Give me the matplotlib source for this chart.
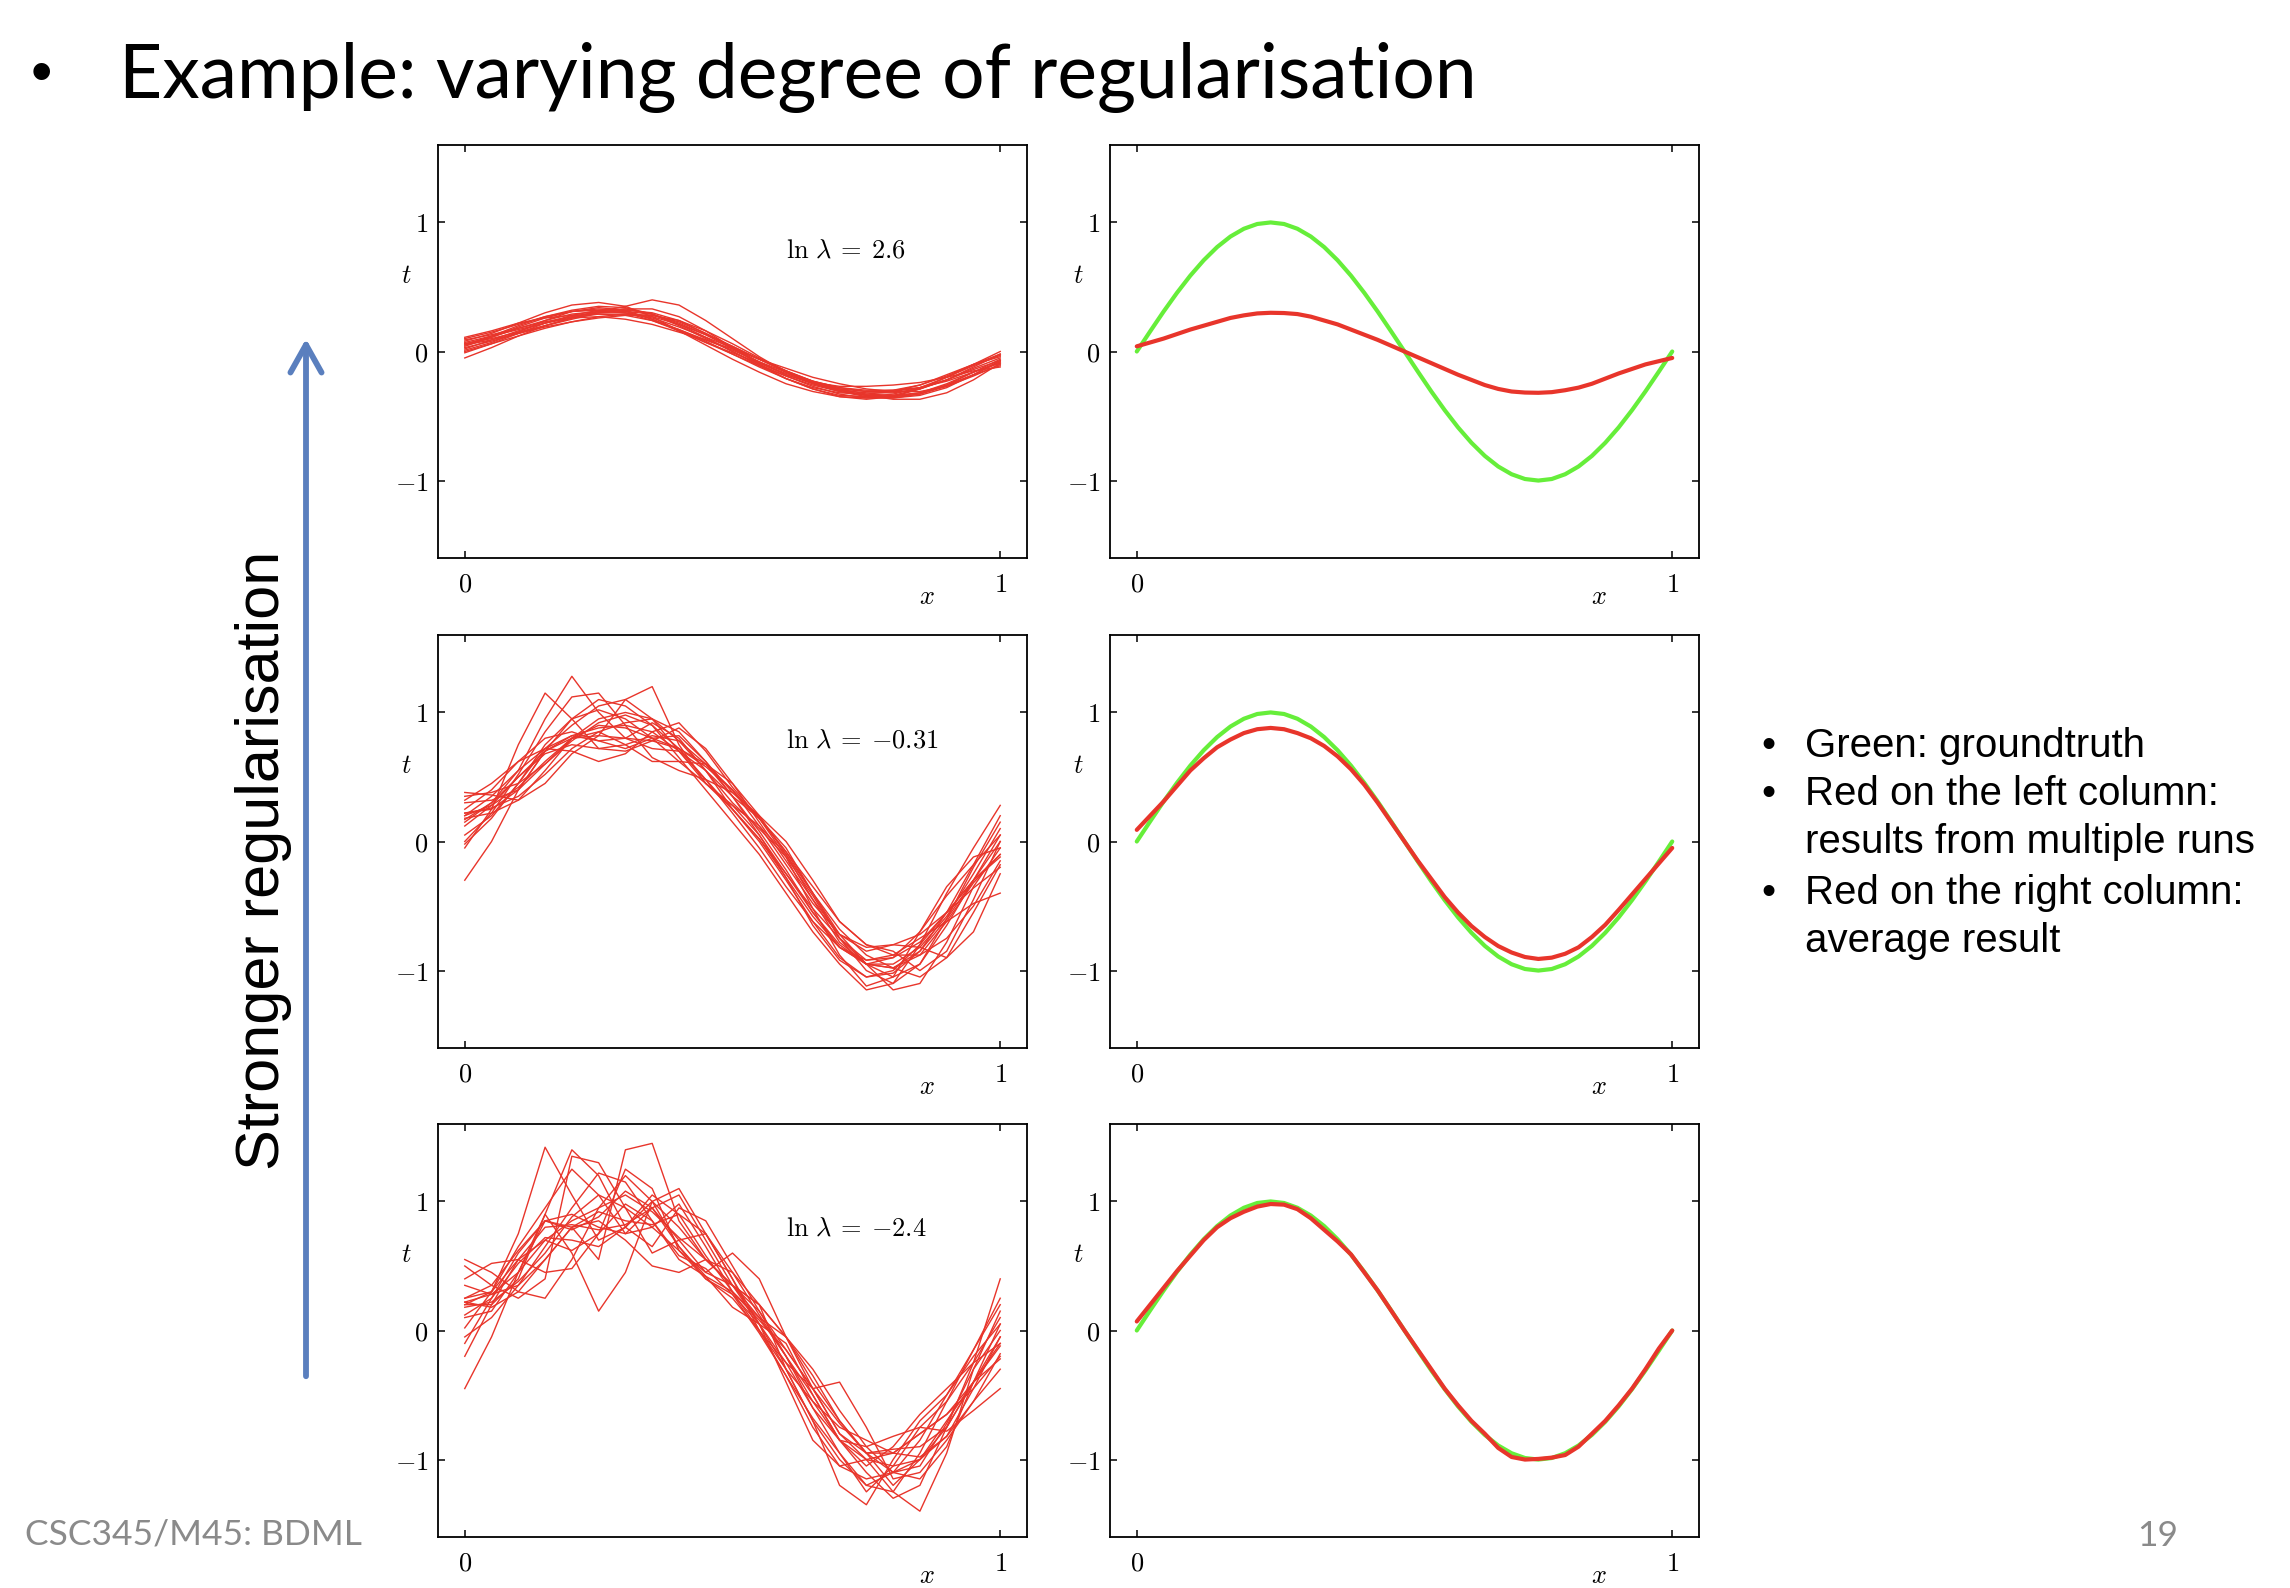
import numpy as np
import matplotlib
matplotlib.use("Agg")
import matplotlib.pyplot as plt
from matplotlib.patches import FancyArrowPatch

plt.rcParams['mathtext.fontset'] = 'cm'
plt.rcParams['font.family'] = ['DejaVu Serif']

W, H = 2290, 1588

# x positions of the individual runs (left column)
xs = [0.00, 0.05, 0.10, 0.15, 0.20, 0.25, 0.30, 0.35, 0.40, 0.45, 0.50,
      0.55, 0.60, 0.65, 0.70, 0.75, 0.80, 0.85, 0.90, 0.95, 1.00]

# finer x positions for the smooth curves (right column)
xs_fine = [0.000, 0.025, 0.050, 0.075, 0.100, 0.125, 0.150, 0.175, 0.200, 0.225,
           0.250, 0.275, 0.300, 0.325, 0.350, 0.375, 0.400, 0.425, 0.450, 0.475,
           0.500, 0.525, 0.550, 0.575, 0.600, 0.625, 0.650, 0.675, 0.700, 0.725,
           0.750, 0.775, 0.800, 0.825, 0.850, 0.875, 0.900, 0.925, 0.950, 0.975,
           1.000]

# ground truth (green)
truth = [0.000, 0.156, 0.309, 0.454, 0.588, 0.707, 0.809, 0.891, 0.951, 0.988,
         1.000, 0.988, 0.951, 0.891, 0.809, 0.707, 0.588, 0.454, 0.309, 0.156,
         0.000, -0.156, -0.309, -0.454, -0.588, -0.707, -0.809, -0.891, -0.951, -0.988,
         -1.000, -0.988, -0.951, -0.891, -0.809, -0.707, -0.588, -0.454, -0.309, -0.156,
         0.000]

# average fits (red, right column)
avg_hi = [0.04, 0.07, 0.10, 0.135, 0.17, 0.20, 0.23, 0.26, 0.28, 0.295,
          0.30, 0.298, 0.29, 0.27, 0.24, 0.21, 0.17, 0.13, 0.09, 0.045,
          0.00, -0.045, -0.09, -0.135, -0.18, -0.22, -0.26, -0.29, -0.31, -0.318,
          -0.32, -0.315, -0.30, -0.28, -0.25, -0.21, -0.17, -0.135, -0.10, -0.075,
          -0.05]
avg_mid = [0.09, 0.20, 0.31, 0.43, 0.55, 0.645, 0.73, 0.79, 0.84, 0.87,
           0.88, 0.87, 0.84, 0.80, 0.74, 0.66, 0.56, 0.44, 0.30, 0.15,
           0.00, -0.15, -0.29, -0.43, -0.55, -0.655, -0.74, -0.81, -0.86, -0.895,
           -0.91, -0.90, -0.87, -0.82, -0.74, -0.645, -0.53, -0.41, -0.29, -0.17,
           -0.05]
avg_lo = [0.07, 0.20, 0.33, 0.46, 0.58, 0.70, 0.80, 0.87, 0.92, 0.96,
          0.98, 0.975, 0.94, 0.87, 0.78, 0.69, 0.59, 0.45, 0.31, 0.155,
          0.00, -0.15, -0.30, -0.45, -0.58, -0.70, -0.80, -0.91, -0.98, -1.00,
          -0.995, -0.985, -0.965, -0.90, -0.80, -0.70, -0.58, -0.45, -0.30, -0.14,
          0.00]

# individual runs, ln lambda = 2.6
runs_hi = [
    [0.05, 0.12, 0.20, 0.27, 0.31, 0.33, 0.31, 0.25, 0.17, 0.08, -0.02, -0.12, -0.21, -0.28, -0.32, -0.33, -0.31, -0.26, -0.18, -0.10, -0.04],
    [0.00, 0.06, 0.12, 0.18, 0.23, 0.27, 0.29, 0.27, 0.21, 0.13, 0.04, -0.06, -0.15, -0.24, -0.30, -0.34, -0.35, -0.32, -0.25, -0.16, -0.08],
    [0.10, 0.15, 0.21, 0.27, 0.32, 0.35, 0.34, 0.29, 0.20, 0.10, 0.00, -0.10, -0.19, -0.27, -0.33, -0.36, -0.36, -0.33, -0.26, -0.16, -0.06],
    [-0.05, 0.03, 0.12, 0.20, 0.26, 0.29, 0.28, 0.24, 0.17, 0.09, 0.01, -0.08, -0.16, -0.23, -0.28, -0.31, -0.31, -0.28, -0.22, -0.14, -0.07],
    [0.08, 0.14, 0.22, 0.30, 0.36, 0.38, 0.35, 0.27, 0.16, 0.05, -0.06, -0.16, -0.25, -0.31, -0.35, -0.36, -0.34, -0.29, -0.22, -0.13, -0.05],
    [0.03, 0.08, 0.14, 0.19, 0.23, 0.26, 0.28, 0.28, 0.24, 0.16, 0.06, -0.05, -0.15, -0.23, -0.28, -0.30, -0.30, -0.28, -0.23, -0.16, -0.09],
    [0.06, 0.10, 0.15, 0.20, 0.25, 0.30, 0.33, 0.33, 0.27, 0.16, 0.03, -0.10, -0.21, -0.29, -0.34, -0.35, -0.33, -0.28, -0.20, -0.11, -0.03],
    [0.02, 0.09, 0.16, 0.22, 0.26, 0.27, 0.25, 0.21, 0.15, 0.09, 0.02, -0.06, -0.13, -0.20, -0.25, -0.29, -0.31, -0.31, -0.27, -0.19, -0.10],
    [0.11, 0.16, 0.22, 0.26, 0.28, 0.29, 0.29, 0.28, 0.23, 0.14, 0.03, -0.08, -0.18, -0.25, -0.30, -0.32, -0.32, -0.29, -0.22, -0.12, -0.02],
    [0.04, 0.11, 0.19, 0.26, 0.31, 0.32, 0.30, 0.24, 0.16, 0.07, -0.02, -0.11, -0.19, -0.26, -0.31, -0.34, -0.35, -0.33, -0.27, -0.18, -0.11],
    [0.07, 0.12, 0.17, 0.22, 0.27, 0.31, 0.32, 0.30, 0.24, 0.14, 0.04, -0.06, -0.16, -0.24, -0.29, -0.31, -0.30, -0.26, -0.19, -0.10, 0.00],
    [-0.01, 0.06, 0.14, 0.22, 0.28, 0.32, 0.33, 0.29, 0.21, 0.11, 0.00, -0.11, -0.21, -0.29, -0.35, -0.37, -0.35, -0.29, -0.20, -0.10, -0.02],
    [0.09, 0.13, 0.18, 0.23, 0.27, 0.30, 0.31, 0.29, 0.22, 0.13, 0.02, -0.09, -0.18, -0.24, -0.27, -0.27, -0.26, -0.24, -0.20, -0.15, -0.12],
    [0.05, 0.09, 0.14, 0.20, 0.26, 0.31, 0.35, 0.40, 0.36, 0.24, 0.10, -0.04, -0.16, -0.25, -0.31, -0.35, -0.36, -0.34, -0.28, -0.18, -0.07],
    [0.01, 0.07, 0.15, 0.24, 0.31, 0.34, 0.32, 0.25, 0.16, 0.07, -0.01, -0.09, -0.17, -0.24, -0.30, -0.34, -0.37, -0.37, -0.32, -0.22, -0.09],
    [0.06, 0.11, 0.18, 0.24, 0.29, 0.31, 0.30, 0.26, 0.19, 0.11, 0.03, -0.06, -0.15, -0.23, -0.29, -0.33, -0.34, -0.32, -0.26, -0.18, -0.08],
]

# individual runs, ln lambda = -0.31
runs_mid = [
    [0.20, 0.35, 0.55, 0.72, 0.82, 0.88, 0.90, 0.85, 0.70, 0.48, 0.22, -0.05, -0.35, -0.62, -0.82, -0.92, -0.90, -0.78, -0.55, -0.30, -0.10],
    [0.35, 0.38, 0.45, 0.60, 0.78, 0.92, 0.98, 0.90, 0.72, 0.48, 0.25, 0.02, -0.25, -0.55, -0.80, -0.95, -0.98, -0.85, -0.60, -0.30, 0.00],
    [-0.05, 0.25, 0.75, 1.15, 0.95, 0.72, 0.75, 0.82, 0.78, 0.60, 0.35, 0.05, -0.25, -0.52, -0.75, -0.95, -1.05, -0.95, -0.65, -0.30, 0.05],
    [0.15, 0.30, 0.55, 0.95, 1.28, 1.00, 0.80, 0.72, 0.70, 0.55, 0.25, 0.00, -0.30, -0.62, -0.90, -1.05, -1.00, -0.80, -0.55, -0.30, -0.12],
    [0.38, 0.36, 0.32, 0.45, 0.68, 0.82, 0.80, 0.78, 0.72, 0.60, 0.40, 0.12, -0.18, -0.48, -0.72, -0.82, -0.80, -0.72, -0.55, -0.36, -0.20],
    [-0.30, 0.00, 0.40, 0.70, 0.82, 0.78, 0.80, 0.92, 0.80, 0.55, 0.30, 0.10, -0.12, -0.42, -0.75, -1.00, -1.10, -0.95, -0.60, -0.20, 0.15],
    [0.22, 0.25, 0.40, 0.70, 0.95, 1.10, 1.05, 0.90, 0.65, 0.40, 0.15, -0.10, -0.40, -0.70, -0.95, -1.15, -1.10, -0.80, -0.40, -0.05, 0.28],
    [0.12, 0.28, 0.50, 0.70, 0.80, 0.82, 1.10, 1.20, 0.75, 0.45, 0.25, 0.02, -0.28, -0.58, -0.82, -0.95, -0.98, -0.88, -0.62, -0.32, -0.10],
    [0.18, 0.22, 0.32, 0.55, 0.80, 0.95, 1.00, 0.95, 0.78, 0.55, 0.35, 0.18, -0.05, -0.40, -0.75, -0.92, -0.88, -0.75, -0.62, -0.48, -0.40],
    [0.25, 0.40, 0.62, 0.80, 0.85, 0.78, 0.72, 0.80, 0.82, 0.62, 0.38, 0.20, 0.00, -0.30, -0.62, -0.80, -0.85, -1.00, -0.85, -0.45, 0.00],
    [0.05, 0.20, 0.45, 0.72, 0.90, 1.05, 1.10, 0.95, 0.70, 0.45, 0.28, 0.12, -0.10, -0.40, -0.68, -0.88, -0.98, -1.05, -0.90, -0.55, -0.18],
    [0.30, 0.32, 0.40, 0.60, 0.80, 0.85, 0.75, 0.62, 0.62, 0.60, 0.45, 0.20, -0.10, -0.45, -0.78, -0.95, -0.95, -0.82, -0.58, -0.25, 0.10],
    [0.17, 0.30, 0.50, 0.68, 0.75, 0.72, 0.70, 0.78, 0.88, 0.72, 0.45, 0.15, -0.15, -0.45, -0.72, -0.95, -1.15, -1.10, -0.78, -0.35, -0.05],
    [0.00, 0.22, 0.52, 0.85, 1.12, 1.15, 0.90, 0.65, 0.55, 0.48, 0.38, 0.18, -0.12, -0.52, -0.88, -1.12, -1.05, -0.70, -0.35, -0.12, -0.05],
    [0.22, 0.26, 0.35, 0.52, 0.72, 0.85, 0.92, 0.95, 0.85, 0.62, 0.35, 0.08, -0.22, -0.55, -0.82, -0.95, -0.90, -0.70, -0.42, -0.18, 0.05],
    [0.32, 0.45, 0.62, 0.72, 0.70, 0.62, 0.68, 0.85, 0.92, 0.70, 0.42, 0.18, -0.08, -0.40, -0.72, -0.85, -0.80, -0.82, -0.90, -0.70, -0.25],
    [-0.02, 0.18, 0.45, 0.75, 0.95, 1.02, 0.95, 0.80, 0.62, 0.45, 0.28, 0.05, -0.28, -0.65, -0.92, -1.05, -1.02, -0.85, -0.55, -0.18, 0.20],
    [0.20, 0.28, 0.42, 0.62, 0.80, 0.90, 0.88, 0.80, 0.72, 0.58, 0.40, 0.18, -0.08, -0.35, -0.62, -0.80, -0.88, -0.88, -0.75, -0.50, -0.15],
]

# individual runs, ln lambda = -2.4
runs_lo = [
    [0.20, 0.30, 0.75, 1.42, 1.05, 0.70, 0.80, 1.00, 0.80, 0.55, 0.35, 0.05, -0.25, -0.60, -0.95, -1.25, -1.05, -0.75, -0.55, -0.25, 0.10],
    [-0.45, -0.05, 0.45, 0.85, 0.90, 0.80, 0.75, 0.95, 1.05, 0.70, 0.35, 0.20, -0.05, -0.40, -0.70, -0.95, -1.20, -1.00, -0.70, -0.40, -0.05],
    [0.50, 0.35, 0.25, 0.40, 1.35, 1.30, 0.95, 0.60, 0.70, 0.75, 0.40, 0.00, -0.35, -0.75, -1.05, -1.15, -1.10, -1.00, -0.75, -0.40, -0.10],
    [0.20, 0.20, 0.40, 0.90, 1.40, 1.20, 0.80, 0.65, 0.95, 0.85, 0.50, 0.15, -0.15, -0.45, -0.80, -1.00, -0.95, -0.80, -0.65, -0.45, -0.20],
    [-0.10, 0.25, 0.60, 0.85, 0.80, 0.55, 1.40, 1.45, 0.85, 0.55, 0.35, 0.10, -0.20, -0.50, -0.85, -1.10, -1.30, -1.20, -0.75, -0.25, 0.40],
    [0.25, 0.30, 0.55, 0.80, 0.82, 0.78, 0.82, 0.95, 0.70, 0.45, 0.60, 0.40, -0.05, -0.45, -0.80, -0.95, -0.92, -0.90, -0.75, -0.40, -0.12],
    [0.55, 0.45, 0.30, 0.25, 0.55, 0.95, 1.20, 1.00, 0.65, 0.40, 0.25, 0.00, -0.30, -0.55, -0.75, -0.85, -0.95, -0.98, -0.82, -0.45, -0.05],
    [0.10, 0.15, 0.45, 0.90, 0.60, 0.15, 0.45, 1.00, 1.10, 0.75, 0.40, 0.05, -0.30, -0.70, -1.00, -1.20, -1.10, -0.85, -0.50, -0.15, 0.20],
    [0.22, 0.28, 0.45, 0.70, 0.85, 0.95, 1.05, 0.92, 0.72, 0.55, 0.35, 0.20, -0.05, -0.35, -0.70, -0.95, -0.95, -0.80, -0.65, -0.40, -0.22],
    [-0.20, 0.20, 0.55, 0.70, 0.62, 0.75, 1.25, 1.10, 0.62, 0.40, 0.28, 0.05, -0.40, -0.85, -1.05, -1.00, -1.25, -1.40, -0.95, -0.30, 0.15],
    [0.35, 0.28, 0.35, 0.55, 0.80, 0.85, 0.70, 0.50, 0.45, 0.55, 0.45, 0.20, -0.30, -0.70, -1.20, -1.35, -1.00, -0.70, -0.50, -0.20, 0.05],
    [0.02, 0.30, 0.65, 0.95, 1.25, 1.05, 0.75, 0.80, 0.98, 0.65, 0.30, 0.00, -0.25, -0.45, -0.40, -0.75, -1.15, -1.10, -0.85, -0.55, -0.30],
    [0.18, 0.22, 0.38, 0.60, 0.88, 1.05, 0.95, 0.80, 0.62, 0.45, 0.35, 0.15, -0.20, -0.60, -0.85, -0.90, -0.82, -0.75, -0.78, -0.62, -0.45],
    [0.40, 0.52, 0.55, 0.45, 0.48, 0.75, 0.98, 0.85, 0.55, 0.42, 0.30, 0.08, -0.15, -0.45, -0.72, -0.95, -1.10, -1.05, -0.72, -0.30, 0.00],
    [-0.05, 0.10, 0.35, 0.65, 0.95, 1.22, 1.15, 0.85, 0.58, 0.48, 0.28, -0.02, -0.35, -0.68, -0.95, -1.20, -1.25, -0.95, -0.55, -0.15, 0.25],
    [0.25, 0.35, 0.62, 0.85, 0.78, 0.88, 1.08, 0.95, 0.65, 0.42, 0.18, 0.05, -0.10, -0.50, -0.85, -1.05, -0.90, -0.65, -0.45, -0.25, -0.10],
    [0.22, 0.18, 0.30, 0.55, 0.80, 0.92, 0.85, 0.82, 0.90, 0.75, 0.45, 0.12, -0.20, -0.55, -0.85, -1.00, -1.05, -1.00, -0.82, -0.55, -0.18],
    [0.12, 0.25, 0.52, 0.72, 0.70, 0.65, 0.80, 1.05, 0.90, 0.58, 0.30, 0.10, -0.05, -0.30, -0.62, -0.90, -1.10, -1.15, -0.90, -0.40, 0.05],
]

lam_labels = [r'$\ln\,\lambda\:=\:2.6$', r'$\ln\,\lambda\:=\:{-}0.31$', r'$\ln\,\lambda\:=\:{-}2.4$']
all_runs = [runs_hi, runs_mid, runs_lo]
all_avg = [avg_hi, avg_mid, avg_lo]

bullets = [['Green: groundtruth'],
           ['Red on the left column:', 'results from multiple runs'],
           ['Red on the right column:', 'average result']]

RED = '#e8352b'
GREEN = '#66ee3a'


def style_axes(ax):
    ax.set_xlim(-0.05, 1.05)
    ax.set_ylim(-1.6, 1.6)
    ax.set_xticks([0, 1])
    ax.set_yticks([-1, 0, 1])
    ax.set_xticklabels(['$0$', '$1$'])
    ax.set_yticklabels(['$-1$', '$0$', '$1$'])
    ax.tick_params(direction='in', top=True, right=True, length=5, width=1.1,
                   labelsize=19)
    ax.tick_params(axis='x', pad=10)
    ax.tick_params(axis='y', pad=7)
    for s in ax.spines.values():
        s.set_linewidth(1.3)
    ax.set_xlabel('$x$', fontsize=19)
    ax.xaxis.set_label_coords(0.83, -0.094)
    ax.xaxis.label.set_va('center')
    ax.set_ylabel('$t$', fontsize=19, rotation=0, va='center', ha='center')
    ax.yaxis.set_label_coords(-0.053, 0.683)


fig = plt.figure(figsize=(W / 100, H / 100), dpi=100)

row_bottoms = [1 - 558 / H, 1 - 1048 / H, 1 - 1537 / H]
ax_h = 413 / H
left_x0, right_x0 = 438 / W, 1110 / W
ax_w = 589 / W

for i in range(3):
    axl = fig.add_axes([left_x0, row_bottoms[i], ax_w, ax_h])
    for run in all_runs[i]:
        axl.plot(xs, run, color=RED, lw=1.0, solid_joinstyle='round')
    axl.text(0.6, 0.79, lam_labels[i], fontsize=19, va='center', ha='left')
    style_axes(axl)

    axr = fig.add_axes([right_x0, row_bottoms[i], ax_w, ax_h])
    axr.plot(xs_fine, truth, color=GREEN, lw=3.0, solid_capstyle='round')
    axr.plot(xs_fine, all_avg[i], color=RED, lw=3.0, solid_capstyle='round',
             solid_joinstyle='round')
    style_axes(axr)

# slide title
fig.text(31 / W, 1 - 77 / H, '\u2022', fontsize=44, family='Liberation Sans',
         va='center', ha='left')
fig.text(119 / W, 1 - 98 / H, 'Example: varying degree of regularisation',
         fontsize=54, family='Lato', va='baseline', ha='left')

# arrow and rotated caption
fig.add_artist(FancyArrowPatch(
    (306 / W, 1 - 1379 / H), (306 / W, 1 - 336 / H), transform=fig.transFigure,
    arrowstyle='->,head_length=12.5,head_width=7', mutation_scale=1.6,
    color='#5a7fbe', lw=4.2))
fig.text(263 / W, 1 - 860 / H, 'Stronger regularisation', fontsize=44,
         family='Liberation Sans', rotation=90, va='center', ha='center')

# bullet list on the right
baselines = [757, 805, 853, 904, 952]
k = 0
for group in bullets:
    fig.text(1761 / W, 1 - baselines[k] / H, '\u2022', fontsize=29,
             family='Liberation Sans', va='baseline', ha='left')
    for line in group:
        fig.text(1805 / W, 1 - baselines[k] / H, line, fontsize=29,
                 family='Liberation Sans', va='baseline', ha='left')
        k += 1

# footer
fig.text(25 / W, 1 - 1545 / H, 'CSC345/M45: BDML', fontsize=25.5, family='Lato',
         color='#8a8a8a', va='baseline', ha='left')
fig.text(2178 / W, 1 - 1546 / H, '19', fontsize=25.5, family='Lato',
         color='#8a8a8a', va='baseline', ha='right')

fig.savefig('out.png', dpi=100)
